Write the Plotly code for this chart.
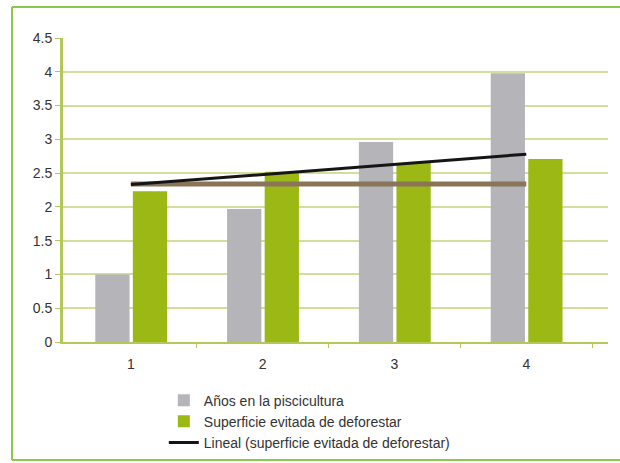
import plotly.graph_objects as go

categories = [1, 2, 3, 4]
tick_labels = ["1", "2", "3", "4"]
anos_piscicultura = [1.0, 1.97, 2.96, 3.98]
superficie_evitada = [2.23, 2.52, 2.65, 2.71]
trend_x = [1, 4]
trend_y = [2.33, 2.78]
ref_x = [1, 4]
ref_y = [2.34, 2.34]

fig = go.Figure()
fig.add_trace(go.Bar(x=categories, y=anos_piscicultura, name="Años en la piscicultura",
                     marker=dict(color="#b5b4b9", line=dict(width=0)),
                     width=0.26, offset=-0.27))
fig.add_trace(go.Bar(x=categories, y=superficie_evitada, name="Superficie evitada de deforestar",
                     marker=dict(color="#9cb815", line=dict(width=0)),
                     width=0.26, offset=0.015))
fig.add_trace(go.Scatter(x=ref_x, y=ref_y, mode="lines", showlegend=False,
                         line=dict(color="#8a7558", width=5)))
fig.add_trace(go.Scatter(x=trend_x, y=trend_y, mode="lines",
                         name="Lineal (superficie evitada de deforestar)",
                         line=dict(color="#151515", width=3)))

# outer frame edges in pixels converted to paper coords
fx0 = (12 - 63) / 545
fx1 = (620 - 63) / 545
fy0 = (342 - 460) / 304
fy1 = (342 - 7) / 304
frame = dict(color="#8cc84b", width=2)

fig.update_layout(
    width=620, height=463,
    margin=dict(l=63, r=12, t=38, b=121, autoexpand=False),
    paper_bgcolor="white", plot_bgcolor="white",
    font=dict(family="Liberation Sans, Arial, sans-serif", size=14, color="#333333"),
    barmode="overlay",
    legend=dict(x=0.185, y=-0.14, xanchor="left", yanchor="top",
                font=dict(size=14, color="#333333"), bgcolor="rgba(0,0,0,0)",
                tracegroupgap=0, itemwidth=30),
    xaxis=dict(range=[0.485, 4.62], tickmode="array", tickvals=categories, ticktext=tick_labels,
               showgrid=False, zeroline=False, showline=True, linecolor="#b4c85a", linewidth=2,
               ticks="", ticklabelstandoff=8,
               minor=dict(tickmode="array", tickvals=[1.5, 2.5, 3.5, 4.5], ticks="outside",
                          ticklen=4, tickcolor="#b4c85a", showgrid=False)),
    yaxis=dict(range=[0, 4.5], tickvals=[0, 0.5, 1, 1.5, 2, 2.5, 3, 3.5, 4, 4.5],
               ticktext=["0", "0.5", "1", "1.5", "2", "2.5", "3", "3.5", "4", "4.5"],
               showgrid=True, gridcolor="#d3dd9c", gridwidth=2, zeroline=False,
               showline=True, linecolor="#b4c85a", linewidth=3,
               ticks="outside", ticklen=5, tickcolor="#b4c85a"),
    shapes=[
        dict(type="line", xref="paper", yref="paper", x0=fx0, x1=fx1, y0=fy1, y1=fy1, line=frame),
        dict(type="line", xref="paper", yref="paper", x0=fx0, x1=fx1, y0=fy0, y1=fy0, line=frame),
        dict(type="line", xref="paper", yref="paper", x0=fx0, x1=fx0, y0=fy0, y1=fy1, line=frame),
    ],
)

fig.write_html("out.html", config={"displayModeBar": False},
               post_script="document.body.style.margin='0';")
